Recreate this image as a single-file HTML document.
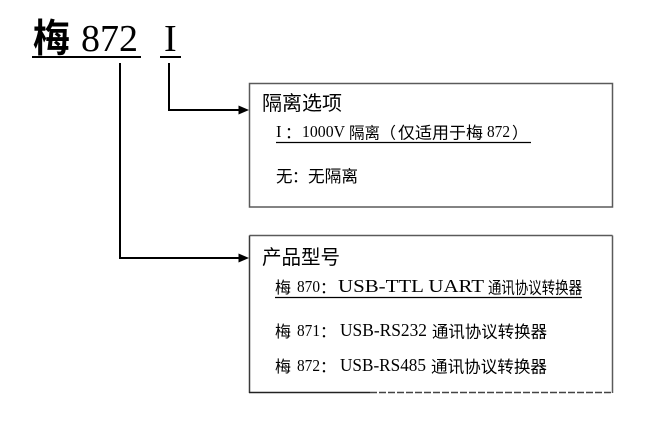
<!DOCTYPE html>
<html>
<head>
<meta charset="utf-8">
<style>
  html, body { margin: 0; padding: 0; background: #fff; }
  body { width: 645px; height: 422px; overflow: hidden; }
  svg { display: block; }
  .cjk { font-family: "Noto Sans CJK SC", "WenQuanYi Zen Hei", sans-serif; }
  .ser { font-family: "Liberation Serif", "Noto Serif CJK SC", serif; }
</style>
</head>
<body>
<svg width="645" height="422" viewBox="0 0 645 422" xmlns="http://www.w3.org/2000/svg">
  <rect x="0" y="0" width="645" height="422" fill="#fff"/>

  <!-- Title -->
  <text class="cjk" x="33" y="52" font-size="39" font-weight="bold" textLength="37" lengthAdjust="spacingAndGlyphs" fill="#000">梅</text>
  <text class="ser" x="81" y="51" font-size="38" textLength="57" lengthAdjust="spacingAndGlyphs" fill="#000">872</text>
  <text class="ser" x="164" y="51" font-size="38" fill="#000">I</text>
  <rect x="32" y="56" width="109" height="2" fill="#000"/>
  <rect x="160" y="56" width="21" height="2" fill="#000"/>

  <!-- Connectors -->
  <g stroke="#000" stroke-width="2" fill="none">
    <line x1="169" y1="63" x2="169" y2="111"/>
    <line x1="168" y1="110" x2="241" y2="110"/>
    <line x1="120" y1="63" x2="120" y2="259"/>
    <line x1="119" y1="258" x2="241" y2="258"/>
  </g>
  <polygon points="238.5,105.5 249,110 238.5,114.5" fill="#000"/>
  <polygon points="238.5,253.5 249,258 238.5,262.5" fill="#000"/>

  <!-- Box 1 -->
  <rect x="249.5" y="83.5" width="363" height="123.5" fill="none" stroke="#5a5a5a" stroke-width="1.5"/>

  <!-- Box 2 -->
  <g fill="none" stroke-width="1.5">
    <line x1="249.5" y1="235.5" x2="612.5" y2="235.5" stroke="#5a5a5a"/>
    <line x1="249.5" y1="235.5" x2="249.5" y2="393" stroke="#3a3a3a"/>
    <line x1="612.5" y1="235.5" x2="612.5" y2="393" stroke="#5a5a5a"/>
    <line x1="249" y1="392.5" x2="370" y2="392.5" stroke="#222"/>
    <line x1="370" y1="392.5" x2="613" y2="392.5" stroke="#444" stroke-dasharray="7 2"/>
  </g>

  <!-- Box 1 text -->
  <text class="cjk" x="262" y="110" font-size="20" textLength="80" lengthAdjust="spacingAndGlyphs" fill="#000">隔离选项</text>

  <text class="ser" x="276" y="137" font-size="16.5" fill="#000">I</text>
  <text class="cjk" x="285" y="138" font-size="16" fill="#000">：</text>
  <text class="ser" x="302" y="137" font-size="16.5" textLength="43" lengthAdjust="spacingAndGlyphs" fill="#000">1000V</text>
  <text class="cjk" x="349" y="138.5" font-size="16" textLength="31" lengthAdjust="spacingAndGlyphs" fill="#000">隔离</text>
  <text class="cjk" x="380" y="138.5" font-size="16" fill="#000">（</text>
  <text class="cjk" x="398" y="138.5" font-size="16.5" textLength="85" lengthAdjust="spacingAndGlyphs" fill="#000">仅适用于梅</text>
  <text class="ser" x="487" y="137" font-size="16.5" textLength="23" lengthAdjust="spacingAndGlyphs" fill="#000">872</text>
  <text class="cjk" x="512" y="138.5" font-size="16" fill="#000">）</text>
  <line x1="276" y1="142.5" x2="531" y2="142.5" stroke="#000" stroke-width="1.2"/>

  <text class="cjk" x="276" y="182" font-size="16.5" fill="#000">无</text>
  <text class="cjk" x="292" y="182" font-size="16" fill="#000">：</text>
  <text class="cjk" x="308" y="182" font-size="16.5" textLength="50" lengthAdjust="spacingAndGlyphs" fill="#000">无隔离</text>

  <!-- Box 2 text -->
  <text class="cjk" x="262" y="264" font-size="20" textLength="78" lengthAdjust="spacingAndGlyphs" fill="#000">产品型号</text>

  <!-- line 1 -->
  <text class="cjk" x="275" y="293" font-size="16" fill="#000">梅</text>
  <text class="ser" x="297" y="292" font-size="16.5" textLength="23" lengthAdjust="spacingAndGlyphs" fill="#000">870</text>
  <text class="cjk" x="320" y="293" font-size="16" fill="#000">：</text>
  <text class="ser" x="338" y="292" font-size="17.5" textLength="146" lengthAdjust="spacingAndGlyphs" fill="#000">USB-TTL UART</text>
  <text class="cjk" x="488" y="293.5" font-size="16.5" textLength="94" lengthAdjust="spacingAndGlyphs" fill="#000">通讯协议转换器</text>
  <line x1="275" y1="297.5" x2="582" y2="297.5" stroke="#000" stroke-width="1.2"/>

  <!-- line 2 -->
  <text class="cjk" x="275" y="337" font-size="16" fill="#000">梅</text>
  <text class="ser" x="297" y="336" font-size="16.5" textLength="23" lengthAdjust="spacingAndGlyphs" fill="#000">871</text>
  <text class="cjk" x="320" y="337" font-size="16" fill="#000">：</text>
  <text class="ser" x="340" y="336" font-size="17.5" textLength="87" lengthAdjust="spacingAndGlyphs" fill="#000">USB-RS232</text>
  <text class="cjk" x="432" y="337.5" font-size="16.5" textLength="115" lengthAdjust="spacingAndGlyphs" fill="#000">通讯协议转换器</text>

  <!-- line 3 -->
  <text class="cjk" x="275" y="372" font-size="16" fill="#000">梅</text>
  <text class="ser" x="297" y="371" font-size="16.5" textLength="23" lengthAdjust="spacingAndGlyphs" fill="#000">872</text>
  <text class="cjk" x="320" y="372" font-size="16" fill="#000">：</text>
  <text class="ser" x="340" y="371" font-size="17.5" textLength="86" lengthAdjust="spacingAndGlyphs" fill="#000">USB-RS485</text>
  <text class="cjk" x="431" y="372.5" font-size="16.5" textLength="116" lengthAdjust="spacingAndGlyphs" fill="#000">通讯协议转换器</text>
</svg>
</body>
</html>
